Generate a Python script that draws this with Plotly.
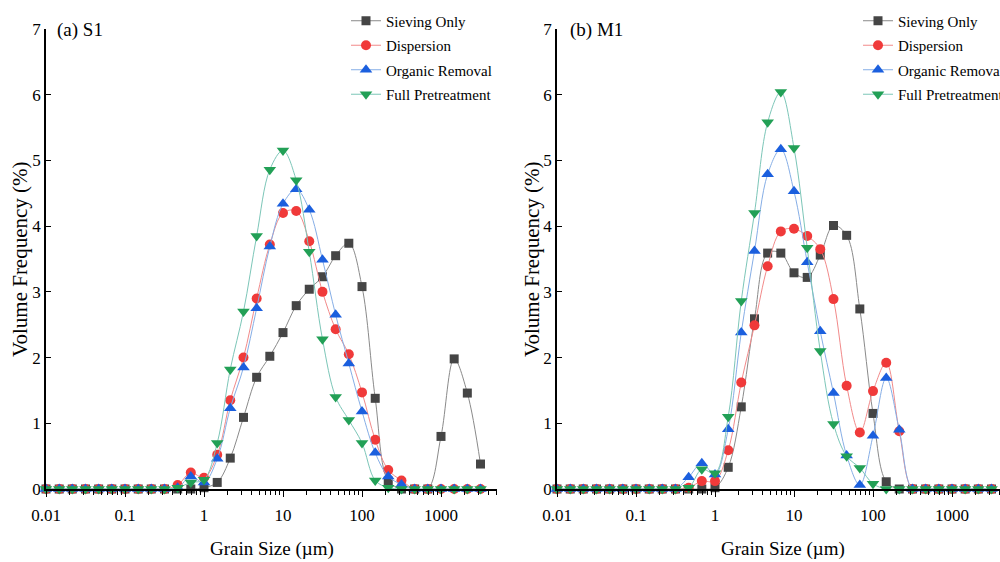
import plotly.graph_objects as go

# Grain size bins (µm)
grain_size = [0.01, 0.0147, 0.0215, 0.0316, 0.0464, 0.0681, 0.1, 0.147, 0.215, 0.316,
              0.464, 0.681, 1, 1.47, 2.15, 3.16, 4.64, 6.81, 10, 14.7, 21.5, 31.6,
              46.4, 68.1, 100, 147, 215, 316, 464, 681, 1000, 1468, 2154, 3162]

series_names = ["Sieving Only", "Dispersion", "Organic Removal", "Full Pretreatment"]

# (a) S1
s1_sieving = [0, 0, 0, 0, 0, 0, 0, 0, 0, 0, 0, 0, 0.02, 0.10, 0.47, 1.09, 1.70, 2.02, 2.38, 2.79,
              3.04, 3.23, 3.55, 3.74, 3.08, 1.38, 0.12, 0, 0, 0, 0.80, 1.98, 1.46, 0.38]
s1_dispersion = [0, 0, 0, 0, 0, 0, 0, 0, 0, 0, 0.06, 0.25, 0.17, 0.52, 1.35, 2.00, 2.90, 3.72, 4.20, 4.23,
                 3.77, 3.00, 2.43, 2.05, 1.47, 0.75, 0.29, 0.13, 0, 0, 0, 0, 0, 0]
s1_organic = [0, 0, 0, 0, 0, 0, 0, 0, 0, 0, 0.02, 0.19, 0.10, 0.46, 1.23, 1.85, 2.75, 3.69, 4.34, 4.56,
              4.25, 3.49, 2.65, 1.91, 1.18, 0.55, 0.19, 0.07, 0, 0, 0, 0, 0, 0]
s1_full = [0, 0, 0, 0, 0, 0, 0, 0, 0, 0, 0.02, 0.10, 0.14, 0.70, 1.82, 2.70, 3.85, 4.86, 5.15, 4.70,
           3.61, 2.28, 1.40, 1.05, 0.70, 0.13, 0.02, 0, 0, 0, 0, 0, 0, 0]

# (b) M1
m1_sieving = [0, 0, 0, 0, 0, 0, 0, 0, 0, 0, 0, 0, 0.02, 0.33, 1.25, 2.59, 3.59, 3.59, 3.29, 3.22,
              3.56, 4.01, 3.86, 2.74, 1.15, 0.11, 0, 0, 0, 0, 0, 0, 0, 0]
m1_dispersion = [0, 0, 0, 0, 0, 0, 0, 0, 0, 0, 0.02, 0.12, 0.12, 0.59, 1.62, 2.49, 3.39, 3.92, 3.96, 3.85,
                 3.65, 2.89, 1.57, 0.86, 1.49, 1.92, 0.88, 0, 0, 0, 0, 0, 0, 0]
m1_organic = [0, 0, 0, 0, 0, 0, 0, 0, 0, 0, 0.18, 0.39, 0.22, 0.91, 2.38, 3.62, 4.79, 5.17, 4.53, 3.45,
              2.40, 1.46, 0.51, 0.06, 0.81, 1.69, 0.90, 0, 0, 0, 0, 0, 0, 0]
m1_full = [0, 0, 0, 0, 0, 0, 0, 0, 0, 0, 0.02, 0.30, 0.24, 1.10, 2.86, 4.20, 5.58, 6.04, 5.19, 3.67,
           2.10, 0.99, 0.50, 0.32, 0.08, 0, 0, 0, 0, 0, 0, 0, 0, 0]

x_tick_vals = [0.01, 0.1, 1, 10, 100, 1000]
x_tick_text = ["0.01", "0.1", "1", "10", "100", "1000"]
y_tick_vals = [0, 1, 2, 3, 4, 5, 6, 7]

FONT = "Liberation Serif"
marker_colors = ["#454545", "#f03a3a", "#1b5fde", "#22a056"]
line_colors = ["#8a8a8a", "#f28a8a", "#86aee6", "#7cc6b8"]
symbols = ["square", "circle", "triangle-up", "triangle-down"]
sizes = [9, 10, 11, 11]

minor_vals = []
for d in [0.01, 0.1, 1, 10, 100, 1000]:
    for m in range(2, 10):
        minor_vals.append(d * m)

fig = go.Figure()

panels = [
    ([s1_sieving, s1_dispersion, s1_organic, s1_full], "x", "y", "legend"),
    ([m1_sieving, m1_dispersion, m1_organic, m1_full], "x2", "y2", "legend2"),
]
for data, xa, ya, lg in panels:
    for i, (name, vals) in enumerate(zip(series_names, data)):
        fig.add_trace(go.Scatter(
            x=grain_size, y=vals, name=name, mode="lines+markers",
            xaxis=xa, yaxis=ya, legend=lg, legendgroup=lg + str(i),
            line=dict(color=line_colors[i], width=1, shape="spline", smoothing=1.0),
            marker=dict(symbol=symbols[i], size=sizes[i], color=marker_colors[i]),
            cliponaxis=False,
        ))

xcommon = dict(type="log", showline=True, linecolor="black", linewidth=1.5,
               ticks="outside", ticklen=6, tickwidth=1.2, tickcolor="black",
               tickvals=x_tick_vals, ticktext=x_tick_text,
               minor=dict(ticks="outside", ticklen=4, tickwidth=1, tickcolor="black",
                          tickvals=minor_vals, showgrid=False),
               showgrid=False, zeroline=False,
               tickfont=dict(family=FONT, size=17, color="black"), ticklabelstandoff=4)
ycommon = dict(range=[0, 7], showline=True, linecolor="black", linewidth=1.5,
               ticks="inside", ticklen=5, tickwidth=1.2, tickcolor="black",
               tickvals=y_tick_vals, showgrid=False, zeroline=False,
               tickfont=dict(family=FONT, size=17, color="black"))

y_dom = [(562 - 489) / 562, (562 - 29) / 562]
fig.update_layout(
    width=1000, height=562,
    margin=dict(l=0, r=0, t=0, b=0, autoexpand=False),
    paper_bgcolor="white", plot_bgcolor="white",
    xaxis=dict(domain=[0.046, 0.497], range=[-2, -2 + 451 / 79], anchor="y", **xcommon),
    yaxis=dict(domain=y_dom, anchor="x", **ycommon),
    xaxis2=dict(domain=[0.557, 1.0], range=[-2, -2 + 443 / 79], anchor="y2", **xcommon),
    yaxis2=dict(domain=y_dom, anchor="x2", **ycommon),
    legend=dict(x=0.346, y=0.992, xanchor="left", yanchor="top", bgcolor="rgba(0,0,0,0)",
                font=dict(family=FONT, size=15, color="black"), tracegroupgap=2),
    legend2=dict(x=0.858, y=0.992, xanchor="left", yanchor="top", bgcolor="rgba(0,0,0,0)",
                 font=dict(family=FONT, size=15, color="black"), tracegroupgap=2),
    showlegend=True,
)

annos = [
    dict(text="(a) S1", x=0.055, y=30, xanchor="left"),
    dict(text="(b) M1", x=0.568, y=30, xanchor="left"),
]
for a in annos:
    fig.add_annotation(text=a["text"], xref="paper", yref="paper", x=a["x"],
                       y=1 - a["y"] / 562, xanchor=a["xanchor"], yanchor="middle",
                       showarrow=False, font=dict(family=FONT, size=19, color="black"))

for cx in [271.5 / 1000, 782.5 / 1000]:
    fig.add_annotation(text="Grain Size (µm)", xref="paper", yref="paper", x=cx,
                       y=1 - 549 / 562, xanchor="center", yanchor="middle",
                       showarrow=False, font=dict(family=FONT, size=19, color="black"))
for cx in [20 / 1000, 532 / 1000]:
    fig.add_annotation(text="Volume Frequency (%)", xref="paper", yref="paper", x=cx,
                       y=1 - 259 / 562, xanchor="center", yanchor="middle", textangle=-90,
                       showarrow=False, font=dict(family=FONT, size=21, color="black"))

fig.write_html("out.html", config={"displayModeBar": False},
               post_script="document.body.style.margin='0';document.body.style.overflow='hidden';")
